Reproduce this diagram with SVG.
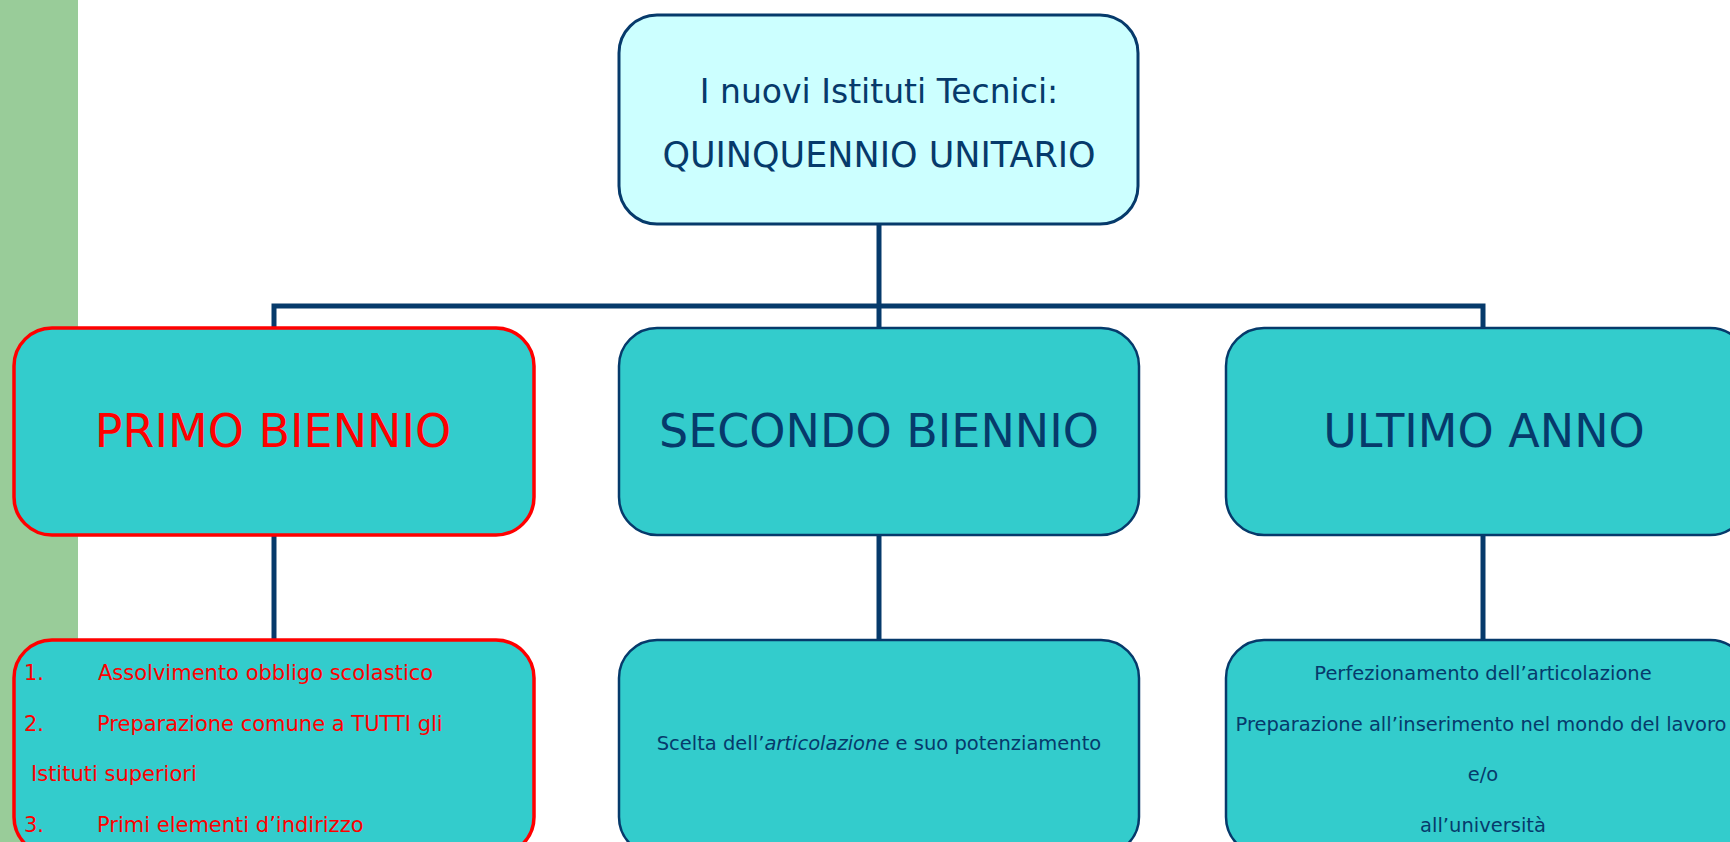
<svg xmlns="http://www.w3.org/2000/svg" width="1730" height="842" viewBox="0 0 1730 842">
<style>
  .bg { fill: #ffffff; }
  .band { fill: #99cc99; }
  .top { fill: #ccffff; stroke: #063a6b; stroke-width: 3; }
  .box { fill: #33cccc; stroke: #063a6b; stroke-width: 2.5; }
  .red { fill: #33cccc; stroke: #ff0000; stroke-width: 3.5; }
  .conn { fill: none; stroke: #063a6b; stroke-width: 5; }
  text { font-family: "DejaVu Sans", "Liberation Sans", sans-serif; fill: #063a6b; }
  .t1 { font-size: 33px; text-anchor: middle; }
  .t1b { font-size: 35px; text-anchor: middle; }
  .t2 { font-size: 46px; text-anchor: middle; }
  .t3 { font-size: 19.5px; }
  .t3l { font-size: 21px; }
  .c { text-anchor: middle; }
  .rt { fill: #ff0000; }
</style>
<rect class="bg" x="0" y="0" width="1730" height="842"/>
<rect class="band" x="0" y="0" width="78" height="842"/>

<g id="connectors">
  <path class="conn" d="M879,224 V328"/>
  <path class="conn" d="M274,328 V306 H1483 V328"/>
  <path class="conn" d="M274,535 V640"/>
  <path class="conn" d="M879,535 V640"/>
  <path class="conn" d="M1483,535 V640"/>
</g>

<g id="node-top">
  <rect class="top" x="619" y="15" width="519" height="209" rx="38"/>
  <text class="t1" x="879" y="103">I nuovi Istituti Tecnici:</text>
  <text class="t1b" x="879" y="167">QUINQUENNIO UNITARIO</text>
</g>

<g id="node-primo">
  <rect class="red" x="14" y="328" width="520" height="207" rx="38"/>
  <text class="t2 rt" x="273" y="447">PRIMO BIENNIO</text>
</g>

<g id="node-secondo">
  <rect class="box" x="619" y="328" width="520" height="207" rx="38"/>
  <text class="t2" x="879" y="447">SECONDO BIENNIO</text>
</g>

<g id="node-ultimo">
  <rect class="box" x="1226" y="328" width="522" height="207" rx="38"/>
  <text class="t2" x="1484" y="447">ULTIMO ANNO</text>
</g>

<g id="node-primo-det">
  <rect class="red" x="14" y="640" width="520" height="215" rx="38"/>
  <text class="t3l rt" x="24" y="680">1.</text>
  <text class="t3l rt" x="98" y="680">Assolvimento obbligo scolastico</text>
  <text class="t3l rt" x="24" y="731">2.</text>
  <text class="t3l rt" x="97" y="731">Preparazione comune a TUTTI gli</text>
  <text class="t3l rt" x="31" y="781">Istituti superiori</text>
  <text class="t3l rt" x="24" y="832">3.</text>
  <text class="t3l rt" x="97" y="832">Primi elementi d’indirizzo</text>
</g>

<g id="node-secondo-det">
  <rect class="box" x="619" y="640" width="520" height="215" rx="38"/>
  <text class="t3 c" x="879" y="750">Scelta dell’<tspan font-style="italic">articolazione</tspan> e suo potenziamento</text>
</g>

<g id="node-ultimo-det">
  <rect class="box" x="1226" y="640" width="522" height="215" rx="38"/>
  <text class="t3 c" x="1483" y="680">Perfezionamento dell’articolazione</text>
  <text class="t3 c" x="1481" y="731">Preparazione all’inserimento nel mondo del lavoro</text>
  <text class="t3 c" x="1483" y="781">e/o</text>
  <text class="t3 c" x="1483" y="832">all’università</text>
</g>
</svg>
